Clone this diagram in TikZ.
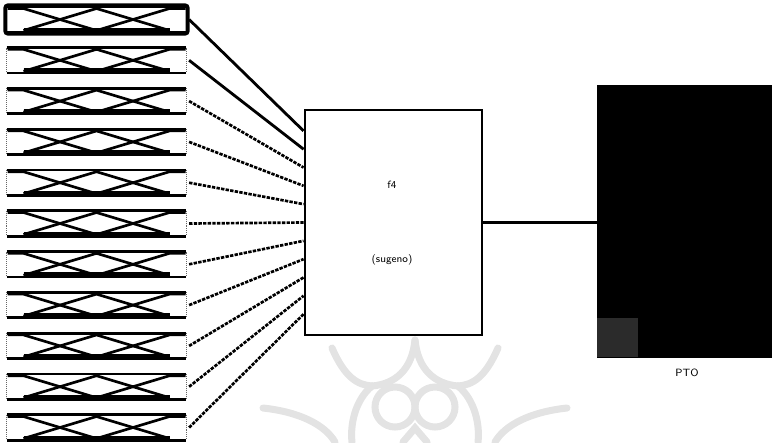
\documentclass[tikz,border=0pt]{standalone}
\usetikzlibrary{calc}
\tikzset{
  mfbox/.style={minimum width=4.475cm, minimum height=0.625cm, inner sep=0pt},
  boxedge/.style={line width=2pt},
  boxside/.style={line width=0.4pt, densely dotted, black!60},
  selbox/.style={line width=2.8pt, rounded corners=2pt},
  mfline/.style={line width=1.9pt, line join=round},
  mfbase/.style={line width=2.6pt},
  wire/.style={line width=2pt},
  dwire/.style={line width=1.9pt, dash pattern=on 2.4pt off 0.9pt},
  fisbox/.style={draw, line width=2pt, minimum width=4.425cm, minimum height=5.625cm, inner sep=0pt},
  ptobox/.style={draw, fill=black, minimum width=4.35cm, minimum height=6.8cm, inner sep=0pt},
  lbl/.style={font=\fontsize{7.5}{9}\selectfont\sffamily},
  wmark/.style={gray!22, line width=5pt, line cap=round}
}
\begin{document}
\begin{tikzpicture}[x=0.025cm, y=-0.025cm]
  \useasboundingbox (0,0) rectangle (773,442);

  % faint watermark
  \begin{scope}[wmark]
    \draw (332,348) .. controls (345,378) and (358,385) .. (372,386);
    \draw (415,340) .. controls (412,370) and (395,384) .. (372,386);
    \draw (415,340) .. controls (418,370) and (435,384) .. (458,386);
    \draw (498,348) .. controls (485,378) and (472,385) .. (458,386);
    \draw (395,407) circle (20);
    \draw (435,407) circle (20);
    \draw (263,408) .. controls (300,412) and (325,425) .. (335,442);
    \draw (567,408) .. controls (530,412) and (505,425) .. (495,442);
    \draw (372,386) .. controls (355,400) and (350,425) .. (352,442);
    \draw (458,386) .. controls (475,400) and (480,425) .. (478,442);
    \draw (403,442) -- (415,428) -- (427,442);
  \end{scope}

  % inputs with their membership functions
  \foreach \i in {0,...,10}{
    \node[mfbox] (in\i) at (96.5, {19.5+40.8*\i}) {};
    \draw[boxside] (in\i.north west) -- (in\i.south west);
    \draw[boxside] (in\i.north east) -- (in\i.south east);
    \draw[boxedge] (in\i.north west) -- (in\i.north east);
    \draw[boxedge] (in\i.south west) -- (in\i.south east);
    \begin{scope}[shift={(in\i.center)}]
      \draw[mfline] (-89,-11) -- (-73,-11) -- (0,11);
      \draw[mfline] (-73,11) -- (0,-11) -- (73,11);
      \draw[mfline] (0,11) -- (73,-11) -- (89,-11);
      \draw[mfbase] (-73,10) -- (73,10);
    \end{scope}
  }
  \draw[selbox] ([xshift=-1pt,yshift=1pt]in0.north west) rectangle ([xshift=1pt,yshift=-1pt]in0.south east);

  % fuzzy system
  \node[fisbox] (fis) at (393.5,222.5) {};
  \node[lbl] (fisname) at (392,185) {f4};
  \node[lbl] (fistype) at (392,260) {(sugeno)};

  \foreach \i in {0,...,10}{
    \coordinate (fin\i) at ($(fis.north west)!{0.098+0.0804*\i}!(fis.south west)$);
    \ifnum\i<2
      \draw[wire] ([xshift=2pt]in\i.east) -- (fin\i);
    \else
      \draw[dwire] ([xshift=2pt]in\i.east) -- (fin\i);
    \fi
  }

  % output
  \node[ptobox] (pto) at (684,221) {};
  \fill[black!83] (pto.south west) rectangle ++(41,-39);
  \draw[wire] (fis.east) -- (fis.east -| pto.west);
  \node[lbl] (ptoname) at (687,373) {PTO};
\end{tikzpicture}
\end{document}
